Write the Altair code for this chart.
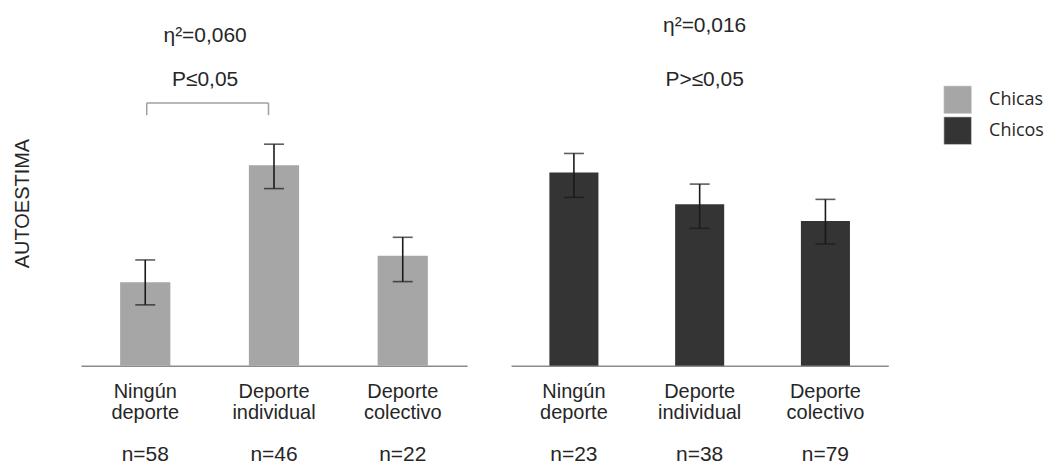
import altair as alt
import pandas as pd

# ---- data ----
categories = ["Ningún deporte", "Deporte individual", "Deporte colectivo"]
label_line1 = ["Ningún", "Deporte", "Deporte"]
label_line2 = ["deporte", "individual", "colectivo"]
groups = ["Chicas", "Chicos"]
group_colors = ["#a6a6a6", "#343434"]

chicas_mean = [8.37, 20.1, 11.03]
chicas_low = [6.1, 17.75, 8.43]
chicas_high = [10.6, 22.2, 12.87]
chicas_n = ["n=58", "n=46", "n=22"]

chicos_mean = [19.37, 16.17, 14.5]
chicos_low = [16.87, 13.77, 12.2]
chicos_high = [21.27, 18.2, 16.67]
chicos_n = ["n=23", "n=38", "n=79"]

eta_labels = ["η²=0,060", "η²=0,016"]
p_labels = ["P≤0,05", "P>≤0,05"]

# annotation levels (in axis units)
eta_levels = [32.4, 33.4]
p_level = 28.0
bracket_top = 26.33
bracket_bottom = 25.1
y_max = 35.6

FONT = "Liberation Sans"
TXT = "#262626"


def panel(means, lows, highs, ns, group, width, eta, p, eta_y, text_anchor, text_dx,
          show_y_title, bracket):
    df = pd.DataFrame({
        "cat": categories,
        "line1": label_line1,
        "line2": label_line2,
        "mean": means,
        "low": lows,
        "high": highs,
        "n": ns,
        "group": [group] * len(categories),
    })
    base = alt.Chart(df)
    xscale = alt.Scale(domain=categories, paddingInner=0.61, paddingOuter=0.305)

    def X(field):
        return alt.X(field, type="nominal", scale=xscale,
                     axis=alt.Axis(labels=False, ticks=False, title=None, grid=False,
                                   domainColor="#8c8c8c", domainWidth=1.5))

    if show_y_title:
        yaxis = alt.Axis(title="AUTOESTIMA", labels=False, ticks=False, domain=False,
                         grid=False, titlePadding=48, titleFontSize=20, titleFont=FONT,
                         titleFontWeight="normal", titleColor=TXT, titleY=193)
    else:
        yaxis = None
    yscale = alt.Scale(domain=[0, y_max], nice=False, zero=True)

    bars = base.mark_bar().encode(
        x=X("cat"),
        y=alt.Y("mean:Q", scale=yscale, axis=yaxis),
        color=alt.Color("group:N",
                        scale=alt.Scale(domain=groups, range=group_colors),
                        legend=alt.Legend(title=None, orient="none", legendX=864, legendY=75,
                                          symbolType="square", symbolSize=760,
                                          symbolStrokeWidth=0.6, symbolStrokeColor="#d0d0d0",
                                          labelFont="Open Sans", labelFontSize=18,
                                          labelColor=TXT, rowPadding=0, labelOffset=17)),
    )
    err = base.mark_rule(color="#1a1a1a", strokeWidth=1.6).encode(
        x=X("cat"), y="low:Q", y2="high:Q")
    cap_lo = base.mark_tick(color="#1a1a1a", thickness=1.6, size=20, orient="horizontal").encode(
        x=X("cat"), y="low:Q")
    cap_hi = base.mark_tick(color="#1a1a1a", thickness=1.6, size=20, orient="horizontal").encode(
        x=X("cat"), y="high:Q")

    txt = dict(font=FONT, color=TXT, baseline="alphabetic", align="center", fontWeight="normal")
    l1 = base.mark_text(fontSize=20, **txt).encode(
        x=X("cat"), y=alt.datum(-3.2), text="line1:N")
    l2 = base.mark_text(fontSize=20, **txt).encode(
        x=X("cat"), y=alt.datum(-5.35), text="line2:N")
    nl = base.mark_text(fontSize=21, **txt).encode(
        x=X("cat"), y=alt.datum(-9.5), text="n:N")

    ann = alt.Chart(pd.DataFrame({"label": [eta, p], "anchor": [text_anchor, text_anchor],
                                  "level": [eta_y, p_level]}))
    ann_t = ann.mark_text(fontSize=21, dx=text_dx, **txt).encode(
        x=X("anchor"), y="level:Q", text="label:N")

    layers = [bars, err, cap_lo, cap_hi, l1, l2, nl, ann_t]
    if bracket:
        bcol = "#a0a0a0"
        bdf = alt.Chart(pd.DataFrame({"a": [categories[0]], "b": [categories[1]],
                                      "top": [bracket_top], "bottom": [bracket_bottom]}))
        h = bdf.mark_rule(color=bcol, strokeWidth=1.5, xOffset=1.5, x2Offset=-5.5).encode(
            x=X("a"), x2="b:N", y="top:Q")
        v1 = bdf.mark_rule(color=bcol, strokeWidth=1.5, xOffset=1.5).encode(
            x=X("a"), y="bottom:Q", y2="top:Q")
        v2 = bdf.mark_rule(color=bcol, strokeWidth=1.5, xOffset=-5.5).encode(
            x=X("b"), y="bottom:Q", y2="top:Q")
        layers += [h, v1, v2]
    return alt.layer(*layers).properties(width=width, height=356)


left = panel(chicas_mean, chicas_low, chicas_high, chicas_n, groups[0], 387,
             eta_labels[0], p_labels[0], eta_levels[0], categories[1], -69, True, True)
right = panel(chicos_mean, chicos_low, chicos_high, chicos_n, groups[1], 378,
              eta_labels[1], p_labels[1], eta_levels[1], categories[1], 5, False, False)

chart = (
    alt.hconcat(left, right, spacing=44)
    .resolve_scale(x="independent", y="independent", color="shared")
    .properties(padding={"left": 5, "top": 2, "right": 0, "bottom": 0})
    .configure_view(stroke=None)
)

chart.save("out.html", embed_options={"renderer": "svg", "actions": False})
